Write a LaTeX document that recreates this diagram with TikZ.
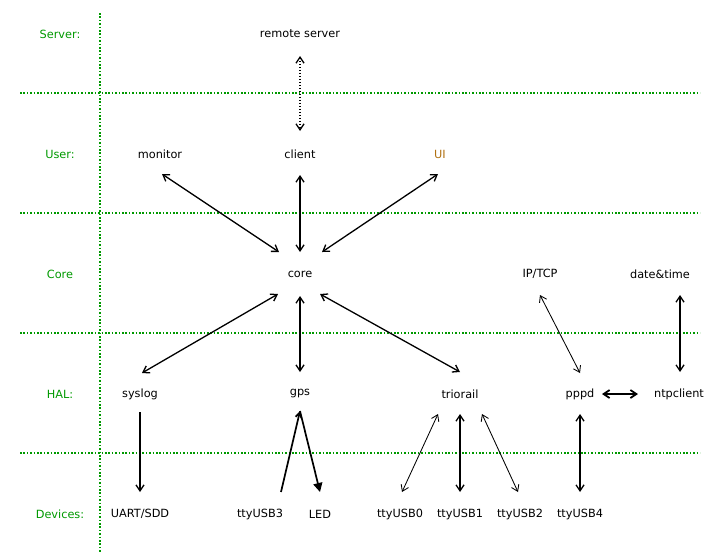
\documentclass[tikz,border=0pt]{standalone}
\usepackage{fontspec}
\setmainfont{DejaVu Sans}
\usetikzlibrary{arrows.meta}
\definecolor{grn}{RGB}{0,153,0}
\definecolor{uicol}{RGB}{176,112,16}
\begin{document}
\begin{tikzpicture}[x=1pt,y=-1pt,
  every node/.style={font=\fontsize{11.3}{14}\selectfont, inner sep=0pt},
  lbl/.style={text=grn},
  grid/.style={draw=grn, line width=1.6pt, dash pattern=on 1.6pt off 1.8pt},
  ar/.style={line width=1.3pt, {Straight Barb[length=6pt,width=8pt]}-{Straight Barb[length=6pt,width=8pt]}},
  thin ar/.style={line width=0.85pt, {Straight Barb[length=6pt,width=8pt]}-{Straight Barb[length=6pt,width=8pt]}}]
\useasboundingbox (0,0) rectangle (707,557);
% grid
\draw[grid] (100,13) -- (100,552);
\foreach \y in {93,213,333,453} \draw[grid] (20,\y) -- (700,\y);
% row labels
\node[lbl] (lserver) at (60,34) {Server:};
\node[lbl] (luser) at (60,154) {User:};
\node[lbl] (lcore) at (60,274) {Core};
\node[lbl] (lhal) at (60,394) {HAL:};
\node[lbl] (ldev) at (60,514) {Devices:};
% nodes
\node (remote) at (300,34) {remote server};
\node (monitor) at (160,154) {monitor};
\node (client) at (300,154) {client};
\node[text=uicol] (ui) at (440,154) {UI};
\node (core) at (300,274) {core};
\node (iptcp) at (540,274) {IP/TCP};
\node (datetime) at (660,274) {date\&time};
\node (syslog) at (140,394) {syslog};
\node (gps) at (300,394) {gps};
\node (triorail) at (460,394) {triorail};
\node (pppd) at (580,394) {pppd};
\node (ntp) at (679,394) {ntpclient};
\node (uart) at (140,514) {UART/SDD};
\node (usb3) at (260,514) {ttyUSB3};
\node (led) at (320,514) {LED};
\node (usb0) at (400,514) {ttyUSB0};
\node (usb1) at (460,514) {ttyUSB1};
\node (usb2) at (520,514) {ttyUSB2};
\node (usb4) at (580,514) {ttyUSB4};
% anchor coordinates
\coordinate (remoteS) at (300,56);
\coordinate (clientN) at (300,131);
\coordinate (monitorSE) at (162,174);
\coordinate (clientS) at (300,175);
\coordinate (uiSW) at (438,174);
\coordinate (coreNW) at (279,252);
\coordinate (coreN) at (300,252);
\coordinate (coreNE) at (322,252);
\coordinate (coreSW) at (278,294);
\coordinate (coreS) at (300,296);
\coordinate (coreSE) at (320,294);
\coordinate (syslogN) at (142,373);
\coordinate (gpsN) at (300,372);
\coordinate (trioN) at (460,372);
\coordinate (iptcpS) at (540,295);
\coordinate (pppdN) at (580,373);
\coordinate (dtS) at (680,295);
\coordinate (ntpN) at (680,372);
\coordinate (pppdE) at (602,394);
\coordinate (ntpW) at (638,394);
\coordinate (syslogS) at (140,412);
\coordinate (uartN) at (140,492);
\coordinate (gpsS) at (300,411);
\coordinate (usb3N) at (281,492);
\coordinate (ledN) at (320,492);
\coordinate (trioSW) at (438,414);
\coordinate (trioS) at (460,414);
\coordinate (trioSE) at (482,414);
\coordinate (usb0N) at (402,492);
\coordinate (usb1N) at (460,492);
\coordinate (usb2N) at (518,492);
\coordinate (pppdS) at (580,414);
\coordinate (usb4N) at (580,492);
% connectors
\draw[ar, dash pattern=on 1.5pt off 1.5pt] (remoteS) -- (clientN);
\draw[ar] (monitorSE) -- (coreNW);
\draw[ar] (clientS) -- (coreN);
\draw[ar] (uiSW) -- (coreNE);
\draw[ar] (coreSW) -- (syslogN);
\draw[ar] (coreS) -- (gpsN);
\draw[ar] (coreSE) -- (trioN);
\draw[thin ar] (iptcpS) -- (pppdN);
\draw[ar] (dtS) -- (ntpN);
\draw[line width=1.8pt, {Straight Barb[length=6pt,width=8pt]}-{Straight Barb[length=6pt,width=8pt]}] (pppdE) -- (ntpW);
\draw[line width=1.3pt, -{Straight Barb[length=6pt,width=8pt]}] (syslogS) -- (uartN);
\draw[line width=1.7pt, -{Straight Barb[length=5pt,width=6pt]}] (usb3N) -- (gpsS);
\draw[line width=1.7pt, -{Triangle[length=9pt,width=9pt]}] (gpsS) -- (ledN);
\draw[thin ar] (trioSW) -- (usb0N);
\draw[ar] (trioS) -- (usb1N);
\draw[thin ar] (trioSE) -- (usb2N);
\draw[ar] (pppdS) -- (usb4N);
\end{tikzpicture}
\end{document}
